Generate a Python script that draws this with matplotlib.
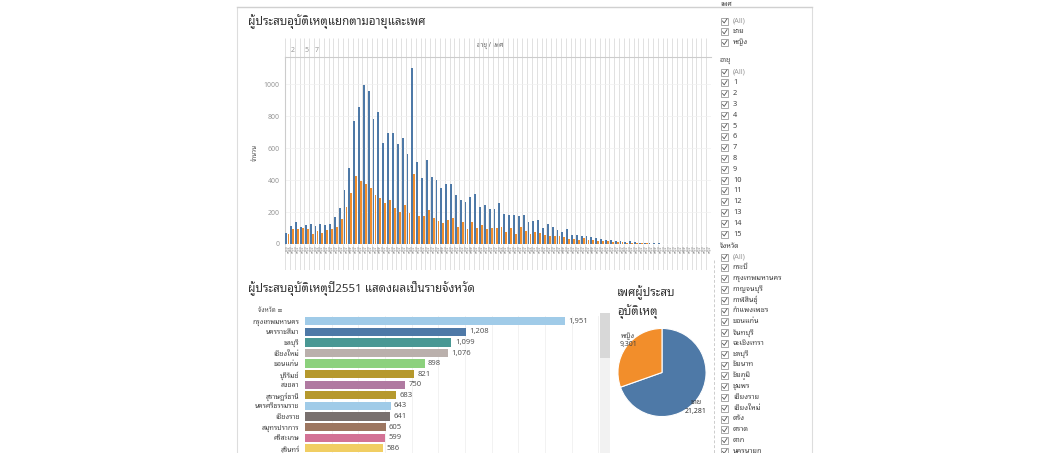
import matplotlib
matplotlib.use("Agg")
import matplotlib.pyplot as plt
from matplotlib import font_manager, ft2font
from matplotlib.patches import Rectangle
import numpy as np

W, H = 1042, 453

# counts of injured people by age (1..88), male then female
ages = list(range(1, 89))
male = [66, 115, 140, 109, 120, 126, 113, 126, 120, 126,
        171, 222, 336, 474, 768, 855, 991, 954, 783, 826,
        634, 696, 696, 624, 665, 562, 1098, 513, 410, 527,
        417, 397, 348, 377, 377, 307, 278, 262, 293, 313,
        231, 241, 220, 216, 258, 187, 183, 183, 173, 181,
        138, 144, 148, 103, 128, 109, 89, 78, 93, 56,
        54, 47, 49, 41, 39, 31, 27, 23, 19, 19,
        14, 16, 12, 8, 6, 6, 4, 4, 3, 3,
        2, 2, 2, 1, 1, 1, 1, 1]
female = [62, 93, 93, 99, 95, 62, 82, 68, 87, 93,
          105, 157, 233, 319, 424, 391, 375, 350, 305, 288,
          257, 278, 222, 198, 243, 191, 439, 176, 178, 211,
          163, 144, 130, 148, 163, 109, 136, 93, 138, 97,
          120, 93, 103, 103, 109, 78, 103, 62, 107, 82,
          62, 72, 68, 54, 52, 52, 47, 41, 33, 31,
          27, 35, 23, 23, 21, 16, 16, 14, 12, 10,
          8, 6, 6, 4, 4, 2, 2, 2, 1, 1,
          1, 1, 0, 1, 0, 0, 0, 0]

provinces = ["กรุงเทพมหานคร", "นครราชสีมา", "ชลบุรี", "เชียงใหม่", "ขอนแก่น",
             "บุรีรัมย์", "สงขลา", "สุราษฎร์ธานี", "นครศรีธรรมราช", "เชียงราย",
             "สมุทรปราการ", "ศรีสะเกษ", "สุรินทร์"]
province_counts = [1951, 1208, 1099, 1076, 898, 821, 750, 683, 643, 641, 605, 599, 586]
province_colors = ["#a0cbe8", "#4e79a7", "#499894", "#bab0ac", "#8cd17d", "#b6992d",
                   "#b07aa1", "#b6992d", "#a0cbe8", "#79706e", "#9d7660", "#d37295", "#f1ce63"]

sex_labels = ["ชาย", "หญิง"]
sex_totals = [21281, 9301]

filter_sex = ["(All)", "ชาย", "หญิง"]
filter_age = ["(All)"] + [str(a) for a in range(1, 16)]
filter_prov = ["(All)", "กระบี่", "กรุงเทพมหานคร", "กาญจนบุรี", "กาฬสินธุ์", "กำแพงเพชร",
               "ขอนแก่น", "จันทบุรี", "ฉะเชิงเทรา", "ชลบุรี", "ชัยนาท", "ชัยภูมิ", "ชุมพร",
               "เชียงราย", "เชียงใหม่", "ตรัง", "ตราด", "ตาก", "นครนายก"]

BLUE = "#4e79a7"
ORANGE = "#f28e2b"


def thai_fonts():
    found = []
    for f in font_manager.fontManager.ttflist:
        try:
            if 0x0E01 in ft2font.FT2Font(f.fname).get_charmap():
                if f.name not in found:
                    found.append(f.name)
        except Exception:
            pass
    return found


tf = thai_fonts()
pick = [n for n in ["Noto Sans Thai Looped", "Loma"] if n in tf] or tf[:1]
plt.rcParams['font.family'] = pick[:1] + ['DejaVu Sans']


def box(x0, y0, x1, y1):
    return [x0 / W, 1 - y1 / H, (x1 - x0) / W, (y1 - y0) / H]


fig = plt.figure(figsize=(W / 100, H / 100), dpi=100)

# pixel-space overlay for titles, frames and the filter panel
ov = fig.add_axes([0, 0, 1, 1])
ov.set_xlim(0, W)
ov.set_ylim(H, 0)
ov.axis('off')

ov.plot([237, 237], [7, H], color="#dddddd", lw=0.8)
ov.plot([812, 812], [7, H], color="#dddddd", lw=0.8)
ov.plot([237, 812], [7, 7], color="#d0d0d0", lw=1.0)
ov.plot([714, 714], [260, H], color="#cccccc", lw=0.7, ls=(0, (3, 2)))

TITLE = dict(fontsize=8.3, color="#333333", va='center')
ov.text(248, 22, "ผู้ประสบอุบัติเหตุแยกตามอายุและเพศ", **TITLE)
ov.text(248, 288, "ผู้ประสบอุบัติเหตุปี2551 แสดงผลเป็นรายจังหวัด", **TITLE)
ov.text(617, 293, "เพศผู้ประสบ", **TITLE)
ov.text(617, 312, "อุบัติเหตุ", **TITLE)
ov.text(490, 45, "อายุ / เพศ", fontsize=4.5, color="#555555", ha='center', va='center')
ov.text(255, 152, "จำนวน", fontsize=4.5, color="#555555", rotation=90, ha='center', va='center')
ov.text(283, 310, "จังหวัด ≡", fontsize=4.5, color="#555555", ha='right', va='center')

# scrollbar beside the province list
ov.add_patch(Rectangle((600, 313), 10, 142, color="#f2f2f2", lw=0))
ov.add_patch(Rectangle((600, 313), 10, 45, color="#d8d8d8", lw=0))

# age / sex chart
ax = fig.add_axes(box(285, 57, 711, 244))
x = np.arange(len(ages))
ax.bar(x - 0.21, male, width=0.38, color=BLUE, zorder=3)
ax.bar(x + 0.21, female, width=0.38, color=ORANGE, zorder=3)
ax.set_xlim(-0.5, len(ages) - 0.5)
ax.set_ylim(0, 1169)
ax.vlines(np.arange(-0.5, len(ages)), 0, 1169, color="#dcdcdc", lw=0.6, zorder=1)
ax.set_yticks(range(0, 1001, 200))
ax.set_yticklabels([str(v) for v in range(0, 1001, 200)], fontsize=5, color="#999999")
ax.grid(axis='y', color="#f0f0f0", lw=0.5)
ax.set_xticks([])
ax.tick_params(axis='y', length=0, pad=4)
for s in ['top', 'right', 'bottom']:
    ax.spines[s].set_visible(False)
ax.spines['left'].set_color("#cccccc")
ax.patch.set_alpha(0)

# age header strip above the plot
hx = fig.add_axes(box(285, 38, 711, 57))
hx.set_xlim(-0.5, len(ages) - 0.5)
hx.set_ylim(0, 1)
hx.vlines(np.arange(-0.5, len(ages)), 0, 1, color="#dcdcdc", lw=0.6)
for a in [2, 5, 7]:
    hx.text(ages.index(a), 0.35, str(a), fontsize=5, color="#999999", ha='center', va='center')
hx.set_xticks([])
hx.set_yticks([])
for s in ['top', 'right', 'left']:
    hx.spines[s].set_visible(False)
hx.spines['bottom'].set_color("#cccccc")
hx.patch.set_alpha(0)

# sex labels under each bar
lx = fig.add_axes(box(285, 244, 711, 270))
lx.set_xlim(-0.5, len(ages) - 0.5)
lx.set_ylim(1, 0)
lx.vlines(np.arange(-0.5, len(ages)), 0, 1, color="#dcdcdc", lw=0.6)
for i in x:
    lx.text(i - 0.21, 0.05, sex_labels[0], fontsize=2.6, color="#888888", rotation=90, ha='center', va='top')
    lx.text(i + 0.21, 0.05, sex_labels[1], fontsize=2.6, color="#888888", rotation=90, ha='center', va='top')
lx.axis('off')

# province chart
px = fig.add_axes(box(305, 316, 599, 453))
y = np.arange(len(provinces))
px.barh(y, province_counts, height=0.78, color=province_colors, zorder=3)
px.set_xlim(0, 1951 * 294 / 260)
px.set_ylim(12.45, -0.5)
for v in range(200, 2201, 200):
    px.axvline(v, color="#f0f0f0", lw=0.6, zorder=1)
for i, v in enumerate(province_counts):
    px.text(v + 25, i, f"{v:,}", fontsize=5.5, color="#555555", va='center')
px.set_yticks(y)
px.set_yticklabels(provinces, fontsize=5, color="#444444")
px.set_xticks([])
px.tick_params(axis='y', length=0, pad=4)
for s in px.spines.values():
    s.set_visible(False)
px.patch.set_alpha(0)

# sex pie
pie_ax = fig.add_axes(box(617.5, 328, 706.5, 417))
pie_ax.pie(sex_totals, colors=[BLUE, ORANGE], startangle=90, counterclock=False,
           wedgeprops=dict(linewidth=0.8, edgecolor="white"))
pie_ax.set_xlim(-1.01, 1.01)
pie_ax.set_ylim(-1.01, 1.01)
pie_ax.set_aspect('equal')
# slice labels go on the figure so they sit above the wedges
fig.text(628 / W, 1 - 340 / H, f"{sex_labels[1]}\n{sex_totals[1]:,}", fontsize=5, color="#444444",
         va='center', ha='center', linespacing=1.3)
fig.text(696 / W, 1 - 407 / H, f"{sex_labels[0]}\n{sex_totals[0]:,}", fontsize=5, color="#333333",
         va='center', ha='center', linespacing=1.3)


def check_item(ypos, label, grey=False):
    ov.add_patch(Rectangle((721, ypos - 3.5), 7, 7, fill=False, ec="#9a9a9a", lw=0.6))
    ov.plot([722.5, 724.2, 727], [ypos, ypos + 2, ypos - 2.2], color="#555555", lw=0.6)
    ov.text(733, ypos, label, fontsize=5.3, color="#999999" if grey else "#444444", va='center')


ov.text(720, 4, "เพศ", fontsize=5, color="#444444", va='center')
for k, lab in enumerate(filter_sex):
    check_item(21 + k * 10.8, lab, grey=(k == 0))
ov.text(720, 60, "อายุ", fontsize=5, color="#444444", va='center')
for k, lab in enumerate(filter_age):
    check_item(72 + k * 10.8, lab, grey=(k == 0))
ov.text(720, 246, "จังหวัด", fontsize=5, color="#444444", va='center')
for k, lab in enumerate(filter_prov):
    check_item(257 + k * 10.8, lab, grey=(k == 0))

fig.savefig("out.png", dpi=100)
